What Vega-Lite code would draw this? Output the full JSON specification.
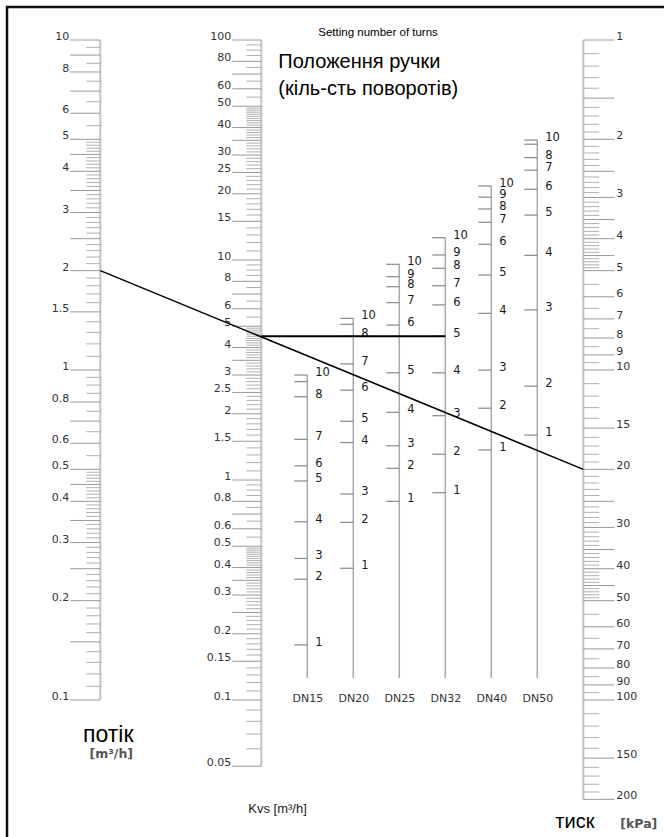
{
  "$schema": "https://vega.github.io/schema/vega-lite/v6.json",
  "width": 677,
  "height": 850,
  "autosize": {"type": "none"},
  "padding": {"left": 7, "top": 7, "right": -20, "bottom": -20},
  "background": "#ffffff",
  "config": {"view": {"stroke": "#111111", "strokeWidth": 2.5}, "text": {"font": "DejaVu Sans"}},
  "datasets": {
    "ticks": [
      {"axis":"flow","value":10,"kind":"major"},{"axis":"flow","value":8,"kind":"major"},{"axis":"flow","value":6,"kind":"major"},{"axis":"flow","value":5,"kind":"major"},{"axis":"flow","value":4,"kind":"major"},{"axis":"flow","value":3,"kind":"major"},{"axis":"flow","value":2,"kind":"major"},{"axis":"flow","value":1.5,"kind":"major"},{"axis":"flow","value":1,"kind":"major"},{"axis":"flow","value":0.8,"kind":"major"},{"axis":"flow","value":0.6,"kind":"major"},{"axis":"flow","value":0.5,"kind":"major"},{"axis":"flow","value":0.4,"kind":"major"},{"axis":"flow","value":0.3,"kind":"major"},{"axis":"flow","value":0.2,"kind":"major"},{"axis":"flow","value":0.1,"kind":"major"},
      {"axis":"flow","value":9,"kind":"long"},{"axis":"flow","value":7,"kind":"long"},{"axis":"flow","value":4.5,"kind":"long"},{"axis":"flow","value":3.5,"kind":"long"},{"axis":"flow","value":2.5,"kind":"long"},{"axis":"flow","value":0.7,"kind":"long"},{"axis":"flow","value":0.45,"kind":"long"},{"axis":"flow","value":0.35,"kind":"long"},{"axis":"flow","value":0.25,"kind":"long"},{"axis":"flow","value":0.15,"kind":"long"},
      {"axis":"flow","value":9.5,"kind":"minor"},{"axis":"flow","value":8.5,"kind":"minor"},{"axis":"flow","value":7.5,"kind":"minor"},{"axis":"flow","value":6.5,"kind":"minor"},{"axis":"flow","value":5.5,"kind":"minor"},
      {"axis":"flow","value":4.9,"kind":"minor"},{"axis":"flow","value":4.8,"kind":"minor"},{"axis":"flow","value":4.7,"kind":"minor"},{"axis":"flow","value":4.6,"kind":"minor"},{"axis":"flow","value":4.4,"kind":"minor"},{"axis":"flow","value":4.3,"kind":"minor"},{"axis":"flow","value":4.2,"kind":"minor"},{"axis":"flow","value":4.1,"kind":"minor"},
      {"axis":"flow","value":3.9,"kind":"minor"},{"axis":"flow","value":3.8,"kind":"minor"},{"axis":"flow","value":3.7,"kind":"minor"},{"axis":"flow","value":3.6,"kind":"minor"},{"axis":"flow","value":3.4,"kind":"minor"},{"axis":"flow","value":3.3,"kind":"minor"},{"axis":"flow","value":3.2,"kind":"minor"},{"axis":"flow","value":3.1,"kind":"minor"},
      {"axis":"flow","value":2.9,"kind":"minor"},{"axis":"flow","value":2.8,"kind":"minor"},{"axis":"flow","value":2.7,"kind":"minor"},{"axis":"flow","value":2.6,"kind":"minor"},{"axis":"flow","value":2.4,"kind":"minor"},{"axis":"flow","value":2.3,"kind":"minor"},{"axis":"flow","value":2.2,"kind":"minor"},{"axis":"flow","value":2.1,"kind":"minor"},
      {"axis":"flow","value":1.9,"kind":"minor"},{"axis":"flow","value":1.8,"kind":"minor"},{"axis":"flow","value":1.7,"kind":"minor"},{"axis":"flow","value":1.6,"kind":"minor"},{"axis":"flow","value":1.4,"kind":"minor"},{"axis":"flow","value":1.3,"kind":"minor"},{"axis":"flow","value":1.2,"kind":"minor"},{"axis":"flow","value":1.1,"kind":"minor"},
      {"axis":"flow","value":0.95,"kind":"minor"},{"axis":"flow","value":0.9,"kind":"minor"},{"axis":"flow","value":0.85,"kind":"minor"},{"axis":"flow","value":0.75,"kind":"minor"},{"axis":"flow","value":0.65,"kind":"minor"},{"axis":"flow","value":0.55,"kind":"minor"},
      {"axis":"flow","value":0.49,"kind":"minor"},{"axis":"flow","value":0.48,"kind":"minor"},{"axis":"flow","value":0.47,"kind":"minor"},{"axis":"flow","value":0.46,"kind":"minor"},{"axis":"flow","value":0.44,"kind":"minor"},{"axis":"flow","value":0.43,"kind":"minor"},{"axis":"flow","value":0.42,"kind":"minor"},{"axis":"flow","value":0.41,"kind":"minor"},
      {"axis":"flow","value":0.39,"kind":"minor"},{"axis":"flow","value":0.38,"kind":"minor"},{"axis":"flow","value":0.37,"kind":"minor"},{"axis":"flow","value":0.36,"kind":"minor"},{"axis":"flow","value":0.34,"kind":"minor"},{"axis":"flow","value":0.33,"kind":"minor"},{"axis":"flow","value":0.32,"kind":"minor"},{"axis":"flow","value":0.31,"kind":"minor"},
      {"axis":"flow","value":0.29,"kind":"minor"},{"axis":"flow","value":0.28,"kind":"minor"},{"axis":"flow","value":0.27,"kind":"minor"},{"axis":"flow","value":0.26,"kind":"minor"},{"axis":"flow","value":0.24,"kind":"minor"},{"axis":"flow","value":0.23,"kind":"minor"},{"axis":"flow","value":0.22,"kind":"minor"},{"axis":"flow","value":0.21,"kind":"minor"},
      {"axis":"flow","value":0.19,"kind":"minor"},{"axis":"flow","value":0.18,"kind":"minor"},{"axis":"flow","value":0.17,"kind":"minor"},{"axis":"flow","value":0.16,"kind":"minor"},{"axis":"flow","value":0.14,"kind":"minor"},{"axis":"flow","value":0.13,"kind":"minor"},{"axis":"flow","value":0.12,"kind":"minor"},{"axis":"flow","value":0.11,"kind":"minor"},

      {"axis":"Kvs","value":100,"kind":"major"},{"axis":"Kvs","value":80,"kind":"major"},{"axis":"Kvs","value":60,"kind":"major"},{"axis":"Kvs","value":50,"kind":"major"},{"axis":"Kvs","value":40,"kind":"major"},{"axis":"Kvs","value":30,"kind":"major"},{"axis":"Kvs","value":25,"kind":"major"},{"axis":"Kvs","value":20,"kind":"major"},{"axis":"Kvs","value":15,"kind":"major"},{"axis":"Kvs","value":10,"kind":"major"},{"axis":"Kvs","value":8,"kind":"major"},{"axis":"Kvs","value":6,"kind":"major"},{"axis":"Kvs","value":5,"kind":"major"},{"axis":"Kvs","value":4,"kind":"major"},{"axis":"Kvs","value":3,"kind":"major"},{"axis":"Kvs","value":2.5,"kind":"major"},{"axis":"Kvs","value":2,"kind":"major"},{"axis":"Kvs","value":1.5,"kind":"major"},{"axis":"Kvs","value":1,"kind":"major"},{"axis":"Kvs","value":0.8,"kind":"major"},{"axis":"Kvs","value":0.6,"kind":"major"},{"axis":"Kvs","value":0.5,"kind":"major"},{"axis":"Kvs","value":0.4,"kind":"major"},{"axis":"Kvs","value":0.3,"kind":"major"},{"axis":"Kvs","value":0.2,"kind":"major"},{"axis":"Kvs","value":0.15,"kind":"major"},{"axis":"Kvs","value":0.1,"kind":"major"},{"axis":"Kvs","value":0.05,"kind":"major"},
      {"axis":"Kvs","value":70,"kind":"long"},{"axis":"Kvs","value":35,"kind":"long"},{"axis":"Kvs","value":7,"kind":"long"},{"axis":"Kvs","value":3.5,"kind":"long"},{"axis":"Kvs","value":0.7,"kind":"long"},{"axis":"Kvs","value":0.35,"kind":"long"},{"axis":"Kvs","value":0.25,"kind":"long"},
      {"axis":"Kvs","value":95,"kind":"minor"},{"axis":"Kvs","value":90,"kind":"minor"},{"axis":"Kvs","value":85,"kind":"minor"},{"axis":"Kvs","value":75,"kind":"minor"},{"axis":"Kvs","value":65,"kind":"minor"},{"axis":"Kvs","value":55,"kind":"minor"},
      {"axis":"Kvs","value":49,"kind":"minor"},{"axis":"Kvs","value":48,"kind":"minor"},{"axis":"Kvs","value":47,"kind":"minor"},{"axis":"Kvs","value":46,"kind":"minor"},{"axis":"Kvs","value":45,"kind":"minor"},{"axis":"Kvs","value":44,"kind":"minor"},{"axis":"Kvs","value":43,"kind":"minor"},{"axis":"Kvs","value":42,"kind":"minor"},{"axis":"Kvs","value":41,"kind":"minor"},
      {"axis":"Kvs","value":39,"kind":"minor"},{"axis":"Kvs","value":38,"kind":"minor"},{"axis":"Kvs","value":37,"kind":"minor"},{"axis":"Kvs","value":36,"kind":"minor"},{"axis":"Kvs","value":34,"kind":"minor"},{"axis":"Kvs","value":33,"kind":"minor"},{"axis":"Kvs","value":32,"kind":"minor"},{"axis":"Kvs","value":31,"kind":"minor"},
      {"axis":"Kvs","value":29,"kind":"minor"},{"axis":"Kvs","value":28,"kind":"minor"},{"axis":"Kvs","value":27,"kind":"minor"},{"axis":"Kvs","value":26,"kind":"minor"},{"axis":"Kvs","value":24,"kind":"minor"},{"axis":"Kvs","value":23,"kind":"minor"},{"axis":"Kvs","value":22,"kind":"minor"},{"axis":"Kvs","value":21,"kind":"minor"},
      {"axis":"Kvs","value":19,"kind":"minor"},{"axis":"Kvs","value":18,"kind":"minor"},{"axis":"Kvs","value":17,"kind":"minor"},{"axis":"Kvs","value":16,"kind":"minor"},{"axis":"Kvs","value":14,"kind":"minor"},{"axis":"Kvs","value":13,"kind":"minor"},{"axis":"Kvs","value":12,"kind":"minor"},{"axis":"Kvs","value":11,"kind":"minor"},
      {"axis":"Kvs","value":9.5,"kind":"minor"},{"axis":"Kvs","value":9,"kind":"minor"},{"axis":"Kvs","value":8.5,"kind":"minor"},{"axis":"Kvs","value":7.5,"kind":"minor"},{"axis":"Kvs","value":6.5,"kind":"minor"},{"axis":"Kvs","value":5.5,"kind":"minor"},
      {"axis":"Kvs","value":4.9,"kind":"minor"},{"axis":"Kvs","value":4.8,"kind":"minor"},{"axis":"Kvs","value":4.7,"kind":"minor"},{"axis":"Kvs","value":4.6,"kind":"minor"},{"axis":"Kvs","value":4.5,"kind":"minor"},{"axis":"Kvs","value":4.4,"kind":"minor"},{"axis":"Kvs","value":4.3,"kind":"minor"},{"axis":"Kvs","value":4.2,"kind":"minor"},{"axis":"Kvs","value":4.1,"kind":"minor"},
      {"axis":"Kvs","value":3.9,"kind":"minor"},{"axis":"Kvs","value":3.8,"kind":"minor"},{"axis":"Kvs","value":3.7,"kind":"minor"},{"axis":"Kvs","value":3.6,"kind":"minor"},{"axis":"Kvs","value":3.4,"kind":"minor"},{"axis":"Kvs","value":3.3,"kind":"minor"},{"axis":"Kvs","value":3.2,"kind":"minor"},{"axis":"Kvs","value":3.1,"kind":"minor"},
      {"axis":"Kvs","value":2.9,"kind":"minor"},{"axis":"Kvs","value":2.8,"kind":"minor"},{"axis":"Kvs","value":2.7,"kind":"minor"},{"axis":"Kvs","value":2.6,"kind":"minor"},{"axis":"Kvs","value":2.4,"kind":"minor"},{"axis":"Kvs","value":2.3,"kind":"minor"},{"axis":"Kvs","value":2.2,"kind":"minor"},{"axis":"Kvs","value":2.1,"kind":"minor"},
      {"axis":"Kvs","value":1.9,"kind":"minor"},{"axis":"Kvs","value":1.8,"kind":"minor"},{"axis":"Kvs","value":1.7,"kind":"minor"},{"axis":"Kvs","value":1.6,"kind":"minor"},{"axis":"Kvs","value":1.4,"kind":"minor"},{"axis":"Kvs","value":1.3,"kind":"minor"},{"axis":"Kvs","value":1.2,"kind":"minor"},{"axis":"Kvs","value":1.1,"kind":"minor"},
      {"axis":"Kvs","value":0.95,"kind":"minor"},{"axis":"Kvs","value":0.9,"kind":"minor"},{"axis":"Kvs","value":0.85,"kind":"minor"},{"axis":"Kvs","value":0.75,"kind":"minor"},{"axis":"Kvs","value":0.65,"kind":"minor"},{"axis":"Kvs","value":0.55,"kind":"minor"},
      {"axis":"Kvs","value":0.49,"kind":"minor"},{"axis":"Kvs","value":0.48,"kind":"minor"},{"axis":"Kvs","value":0.47,"kind":"minor"},{"axis":"Kvs","value":0.46,"kind":"minor"},{"axis":"Kvs","value":0.45,"kind":"minor"},{"axis":"Kvs","value":0.44,"kind":"minor"},{"axis":"Kvs","value":0.43,"kind":"minor"},{"axis":"Kvs","value":0.42,"kind":"minor"},{"axis":"Kvs","value":0.41,"kind":"minor"},
      {"axis":"Kvs","value":0.39,"kind":"minor"},{"axis":"Kvs","value":0.38,"kind":"minor"},{"axis":"Kvs","value":0.37,"kind":"minor"},{"axis":"Kvs","value":0.36,"kind":"minor"},{"axis":"Kvs","value":0.34,"kind":"minor"},{"axis":"Kvs","value":0.33,"kind":"minor"},{"axis":"Kvs","value":0.32,"kind":"minor"},{"axis":"Kvs","value":0.31,"kind":"minor"},
      {"axis":"Kvs","value":0.29,"kind":"minor"},{"axis":"Kvs","value":0.28,"kind":"minor"},{"axis":"Kvs","value":0.27,"kind":"minor"},{"axis":"Kvs","value":0.26,"kind":"minor"},{"axis":"Kvs","value":0.24,"kind":"minor"},{"axis":"Kvs","value":0.23,"kind":"minor"},{"axis":"Kvs","value":0.22,"kind":"minor"},{"axis":"Kvs","value":0.21,"kind":"minor"},
      {"axis":"Kvs","value":0.19,"kind":"minor"},{"axis":"Kvs","value":0.18,"kind":"minor"},{"axis":"Kvs","value":0.17,"kind":"minor"},{"axis":"Kvs","value":0.16,"kind":"minor"},{"axis":"Kvs","value":0.14,"kind":"minor"},{"axis":"Kvs","value":0.13,"kind":"minor"},{"axis":"Kvs","value":0.12,"kind":"minor"},{"axis":"Kvs","value":0.11,"kind":"minor"},
      {"axis":"Kvs","value":0.09,"kind":"minor"},{"axis":"Kvs","value":0.08,"kind":"minor"},{"axis":"Kvs","value":0.07,"kind":"minor"},{"axis":"Kvs","value":0.06,"kind":"minor"},

      {"axis":"pressure","value":1,"kind":"major"},{"axis":"pressure","value":2,"kind":"major"},{"axis":"pressure","value":3,"kind":"major"},{"axis":"pressure","value":4,"kind":"major"},{"axis":"pressure","value":5,"kind":"major"},{"axis":"pressure","value":6,"kind":"major"},{"axis":"pressure","value":7,"kind":"major"},{"axis":"pressure","value":8,"kind":"major"},{"axis":"pressure","value":9,"kind":"major"},{"axis":"pressure","value":10,"kind":"major"},{"axis":"pressure","value":15,"kind":"major"},{"axis":"pressure","value":20,"kind":"major"},{"axis":"pressure","value":30,"kind":"major"},{"axis":"pressure","value":40,"kind":"major"},{"axis":"pressure","value":50,"kind":"major"},{"axis":"pressure","value":60,"kind":"major"},{"axis":"pressure","value":70,"kind":"major"},{"axis":"pressure","value":80,"kind":"major"},{"axis":"pressure","value":90,"kind":"major"},{"axis":"pressure","value":100,"kind":"major"},{"axis":"pressure","value":150,"kind":"major"},{"axis":"pressure","value":200,"kind":"major"},
      {"axis":"pressure","value":1.5,"kind":"long"},{"axis":"pressure","value":2.5,"kind":"long"},{"axis":"pressure","value":3.5,"kind":"long"},{"axis":"pressure","value":4.5,"kind":"long"},{"axis":"pressure","value":25,"kind":"long"},{"axis":"pressure","value":35,"kind":"long"},{"axis":"pressure","value":45,"kind":"long"},
      {"axis":"pressure","value":1.1,"kind":"minor"},{"axis":"pressure","value":1.2,"kind":"minor"},{"axis":"pressure","value":1.3,"kind":"minor"},{"axis":"pressure","value":1.4,"kind":"minor"},{"axis":"pressure","value":1.6,"kind":"minor"},{"axis":"pressure","value":1.7,"kind":"minor"},{"axis":"pressure","value":1.8,"kind":"minor"},{"axis":"pressure","value":1.9,"kind":"minor"},
      {"axis":"pressure","value":2.1,"kind":"minor"},{"axis":"pressure","value":2.2,"kind":"minor"},{"axis":"pressure","value":2.3,"kind":"minor"},{"axis":"pressure","value":2.4,"kind":"minor"},{"axis":"pressure","value":2.6,"kind":"minor"},{"axis":"pressure","value":2.7,"kind":"minor"},{"axis":"pressure","value":2.8,"kind":"minor"},{"axis":"pressure","value":2.9,"kind":"minor"},
      {"axis":"pressure","value":3.1,"kind":"minor"},{"axis":"pressure","value":3.2,"kind":"minor"},{"axis":"pressure","value":3.3,"kind":"minor"},{"axis":"pressure","value":3.4,"kind":"minor"},{"axis":"pressure","value":3.6,"kind":"minor"},{"axis":"pressure","value":3.7,"kind":"minor"},{"axis":"pressure","value":3.8,"kind":"minor"},{"axis":"pressure","value":3.9,"kind":"minor"},
      {"axis":"pressure","value":4.1,"kind":"minor"},{"axis":"pressure","value":4.2,"kind":"minor"},{"axis":"pressure","value":4.3,"kind":"minor"},{"axis":"pressure","value":4.4,"kind":"minor"},{"axis":"pressure","value":4.6,"kind":"minor"},{"axis":"pressure","value":4.7,"kind":"minor"},{"axis":"pressure","value":4.8,"kind":"minor"},{"axis":"pressure","value":4.9,"kind":"minor"},
      {"axis":"pressure","value":5.5,"kind":"minor"},{"axis":"pressure","value":6.5,"kind":"minor"},{"axis":"pressure","value":7.5,"kind":"minor"},{"axis":"pressure","value":8.5,"kind":"minor"},{"axis":"pressure","value":9.5,"kind":"minor"},
      {"axis":"pressure","value":11,"kind":"minor"},{"axis":"pressure","value":12,"kind":"minor"},{"axis":"pressure","value":13,"kind":"minor"},{"axis":"pressure","value":14,"kind":"minor"},{"axis":"pressure","value":16,"kind":"minor"},{"axis":"pressure","value":17,"kind":"minor"},{"axis":"pressure","value":18,"kind":"minor"},{"axis":"pressure","value":19,"kind":"minor"},
      {"axis":"pressure","value":21,"kind":"minor"},{"axis":"pressure","value":22,"kind":"minor"},{"axis":"pressure","value":23,"kind":"minor"},{"axis":"pressure","value":24,"kind":"minor"},{"axis":"pressure","value":26,"kind":"minor"},{"axis":"pressure","value":27,"kind":"minor"},{"axis":"pressure","value":28,"kind":"minor"},{"axis":"pressure","value":29,"kind":"minor"},
      {"axis":"pressure","value":31,"kind":"minor"},{"axis":"pressure","value":32,"kind":"minor"},{"axis":"pressure","value":33,"kind":"minor"},{"axis":"pressure","value":34,"kind":"minor"},{"axis":"pressure","value":36,"kind":"minor"},{"axis":"pressure","value":37,"kind":"minor"},{"axis":"pressure","value":38,"kind":"minor"},{"axis":"pressure","value":39,"kind":"minor"},
      {"axis":"pressure","value":41,"kind":"minor"},{"axis":"pressure","value":42,"kind":"minor"},{"axis":"pressure","value":43,"kind":"minor"},{"axis":"pressure","value":44,"kind":"minor"},{"axis":"pressure","value":46,"kind":"minor"},{"axis":"pressure","value":47,"kind":"minor"},{"axis":"pressure","value":48,"kind":"minor"},{"axis":"pressure","value":49,"kind":"minor"},
      {"axis":"pressure","value":55,"kind":"minor"},{"axis":"pressure","value":65,"kind":"minor"},{"axis":"pressure","value":75,"kind":"minor"},{"axis":"pressure","value":85,"kind":"minor"},{"axis":"pressure","value":95,"kind":"minor"},
      {"axis":"pressure","value":110,"kind":"minor"},{"axis":"pressure","value":120,"kind":"minor"},{"axis":"pressure","value":130,"kind":"minor"},{"axis":"pressure","value":140,"kind":"minor"},{"axis":"pressure","value":160,"kind":"minor"},{"axis":"pressure","value":170,"kind":"minor"},{"axis":"pressure","value":180,"kind":"minor"},{"axis":"pressure","value":190,"kind":"minor"}
    ],
    "turns": [
      {"axis":"DN15","turn":10,"value":3.0,"labeled":true},{"axis":"DN15","turn":9,"value":2.8,"labeled":false},{"axis":"DN15","turn":8,"value":2.39,"labeled":true},{"axis":"DN15","turn":7,"value":1.53,"labeled":true},{"axis":"DN15","turn":6,"value":1.16,"labeled":true},{"axis":"DN15","turn":5,"value":0.99,"labeled":true},{"axis":"DN15","turn":4,"value":0.646,"labeled":true},{"axis":"DN15","turn":3,"value":0.44,"labeled":true},{"axis":"DN15","turn":2,"value":0.354,"labeled":true},{"axis":"DN15","turn":1,"value":0.178,"labeled":true},
      {"axis":"DN20","turn":10,"value":5.43,"labeled":true},{"axis":"DN20","turn":9,"value":5.1,"labeled":false},{"axis":"DN20","turn":8,"value":4.5,"labeled":true},{"axis":"DN20","turn":7,"value":3.37,"labeled":true},{"axis":"DN20","turn":6,"value":2.56,"labeled":true},{"axis":"DN20","turn":5,"value":1.85,"labeled":true},{"axis":"DN20","turn":4,"value":1.48,"labeled":true},{"axis":"DN20","turn":3,"value":0.864,"labeled":true},{"axis":"DN20","turn":2,"value":0.642,"labeled":true},{"axis":"DN20","turn":1,"value":0.397,"labeled":true},
      {"axis":"DN25","turn":10,"value":9.56,"labeled":true},{"axis":"DN25","turn":9,"value":8.4,"labeled":true},{"axis":"DN25","turn":8,"value":7.56,"labeled":true},{"axis":"DN25","turn":7,"value":6.4,"labeled":true},{"axis":"DN25","turn":6,"value":5.06,"labeled":true},{"axis":"DN25","turn":5,"value":3.07,"labeled":true},{"axis":"DN25","turn":4,"value":2.03,"labeled":true},{"axis":"DN25","turn":3,"value":1.43,"labeled":true},{"axis":"DN25","turn":2,"value":1.13,"labeled":true},{"axis":"DN25","turn":1,"value":0.8,"labeled":true},
      {"axis":"DN32","turn":10,"value":12.63,"labeled":true},{"axis":"DN32","turn":9,"value":10.54,"labeled":true},{"axis":"DN32","turn":8,"value":9.17,"labeled":true},{"axis":"DN32","turn":7,"value":7.64,"labeled":true},{"axis":"DN32","turn":6,"value":6.25,"labeled":true},{"axis":"DN32","turn":5,"value":4.5,"labeled":true},{"axis":"DN32","turn":4,"value":3.07,"labeled":true},{"axis":"DN32","turn":3,"value":1.96,"labeled":true},{"axis":"DN32","turn":2,"value":1.31,"labeled":true},{"axis":"DN32","turn":1,"value":0.875,"labeled":true},
      {"axis":"DN40","turn":10,"value":21.7,"labeled":true},{"axis":"DN40","turn":9,"value":19.3,"labeled":true},{"axis":"DN40","turn":8,"value":17.06,"labeled":true},{"axis":"DN40","turn":7,"value":14.84,"labeled":true},{"axis":"DN40","turn":6,"value":11.79,"labeled":true},{"axis":"DN40","turn":5,"value":8.55,"labeled":true},{"axis":"DN40","turn":4,"value":5.72,"labeled":true},{"axis":"DN40","turn":3,"value":3.16,"labeled":true},{"axis":"DN40","turn":2,"value":2.12,"labeled":true},{"axis":"DN40","turn":1,"value":1.37,"labeled":true},
      {"axis":"DN50","turn":10,"value":35.1,"labeled":true},{"axis":"DN50","turn":9,"value":33.6,"labeled":false},{"axis":"DN50","turn":8,"value":29.2,"labeled":true},{"axis":"DN50","turn":7,"value":25.6,"labeled":true},{"axis":"DN50","turn":6,"value":20.96,"labeled":true},{"axis":"DN50","turn":5,"value":16.0,"labeled":true},{"axis":"DN50","turn":4,"value":10.5,"labeled":true},{"axis":"DN50","turn":3,"value":5.93,"labeled":true},{"axis":"DN50","turn":2,"value":2.67,"labeled":true},{"axis":"DN50","turn":1,"value":1.6,"labeled":true}
    ]
  },
  "encoding": {
    "x": {
      "field": "axis",
      "type": "nominal",
      "scale": {
        "type": "point",
        "domain": ["flow","g1","g2","g3","g4","g5","g6","Kvs","g7","DN15","g8","DN20","g9","DN25","g10","DN32","g11","DN40","g12","DN50","g13","pressure"],
        "range": [93.3, 576.3],
        "padding": 0
      },
      "axis": {
        "values": ["DN15","DN20","DN25","DN32","DN40","DN50"],
        "title": null,
        "domain": false,
        "ticks": false,
        "grid": false,
        "labelFont": "DejaVu Sans",
        "labelFontSize": 11,
        "labelColor": "#333333",
        "labelPadding": 0,
        "labelAngle": 0,
        "labelOverlap": false,
        "offset": -164.5
      }
    }
  },
  "resolve": {"scale": {"y": "independent"}},
  "layer": [
    {
      "data": {"name": "ticks"},
      "transform": [{"filter": "datum.axis == 'Kvs'"}],
      "encoding": {"y": {"field": "value", "type": "quantitative", "scale": {"type": "log", "domain": [0.019335, 141.254], "nice": false}, "axis": null}},
      "layer": [
        {"data": {"values": [{"axis": "Kvs", "value": 100, "value2": 0.05}]}, "mark": {"type": "rule", "color": "#c4c4c4", "strokeWidth": 2}, "encoding": {"y2": {"field": "value2"}}},
        {"transform": [{"filter": "datum.kind == 'minor'"}], "mark": {"type": "tick", "orient": "horizontal", "size": 15, "thickness": 1, "xOffset": -7.5, "color": "#b0b0b0", "opacity": 1}},
        {"transform": [{"filter": "datum.kind != 'minor'"}], "mark": {"type": "tick", "orient": "horizontal", "size": 29, "thickness": 1, "xOffset": -14.5, "color": "#999999", "opacity": 1}},
        {"transform": [{"filter": "datum.kind == 'major'"}], "mark": {"type": "text", "align": "right", "baseline": "alphabetic", "dx": -30, "fontSize": 11, "color": "#333333"}, "encoding": {"text": {"field": "value", "type": "quantitative", "format": "~g"}}},
        {"data": {"name": "turns"}, "transform": [{"filter": "datum.turn == 10"}], "mark": {"type": "rule", "color": "#a8a8a8", "strokeWidth": 1.5}, "encoding": {"y2": {"datum": 0.126}}},
        {"data": {"name": "turns"}, "mark": {"type": "tick", "orient": "horizontal", "size": 13, "thickness": 1.2, "xOffset": -6.5, "color": "#888888", "opacity": 1}},
        {"data": {"name": "turns"}, "transform": [{"filter": "datum.labeled"}], "mark": {"type": "text", "align": "left", "baseline": "alphabetic", "dx": 8, "dy": 1, "fontSize": 11.5, "color": "#1a1a1a"}, "encoding": {"text": {"field": "turn", "type": "quantitative"}}},
        {"data": {"values": [{"axis": "Kvs", "value": 4.5, "to": "DN32"}]}, "mark": {"type": "rule", "color": "#000000", "strokeWidth": 2}, "encoding": {"x2": {"field": "to"}}},
        {"data": {"values": [{"axis": "DN15", "value": 104.3, "text": "Setting number of turns"}]}, "mark": {"type": "text", "align": "left", "baseline": "alphabetic", "dx": 11, "font": "Liberation Sans", "fontSize": 11.5, "color": "#000000"}, "encoding": {"text": {"field": "text"}}},
        {"data": {"values": [{"axis": "Kvs", "value": 74.35, "text": "Положення ручки"}, {"axis": "Kvs", "value": 56.2, "text": "(кіль-сть поворотів)"}]}, "mark": {"type": "text", "align": "left", "baseline": "alphabetic", "dx": 17, "font": "Liberation Sans", "fontSize": 20, "color": "#000000"}, "encoding": {"text": {"field": "text"}}},
        {"data": {"values": [{"axis": "Kvs", "value": 0.0306, "text": "Kvs [m³/h]"}]}, "mark": {"type": "text", "align": "left", "baseline": "alphabetic", "dx": -13, "font": "Liberation Sans", "fontSize": 13, "color": "#222222"}, "encoding": {"text": {"field": "text"}}}
      ]
    },
    {
      "data": {"name": "ticks"},
      "transform": [{"filter": "datum.axis == 'pressure'"}],
      "encoding": {"y": {"field": "value", "type": "quantitative", "scale": {"type": "log", "domain": [0.794328, 299.06], "nice": false, "reverse": true}, "axis": null}},
      "layer": [
        {"data": {"values": [{"axis": "pressure", "value": 1, "value2": 200}]}, "mark": {"type": "rule", "color": "#c4c4c4", "strokeWidth": 2}, "encoding": {"y2": {"field": "value2"}}},
        {"transform": [{"filter": "datum.kind == 'minor'"}], "mark": {"type": "tick", "orient": "horizontal", "size": 16, "thickness": 1, "xOffset": 8, "color": "#b0b0b0", "opacity": 1}},
        {"transform": [{"filter": "datum.kind != 'minor'"}], "mark": {"type": "tick", "orient": "horizontal", "size": 31, "thickness": 1, "xOffset": 15.5, "color": "#999999", "opacity": 1}},
        {"transform": [{"filter": "datum.kind == 'major'"}], "mark": {"type": "text", "align": "left", "baseline": "alphabetic", "dx": 33, "fontSize": 11, "color": "#333333"}, "encoding": {"text": {"field": "value", "type": "quantitative", "format": "~g"}}},
        {"data": {"values": [{"axis": "pressure", "value": 244.3, "text": "тиск"}]}, "mark": {"type": "text", "align": "left", "baseline": "alphabetic", "dx": -28, "font": "Liberation Sans", "fontSize": 20, "color": "#000000"}, "encoding": {"text": {"field": "text"}}},
        {"data": {"values": [{"axis": "pressure", "value": 244.3, "text": "[kPa]"}]}, "mark": {"type": "text", "align": "left", "baseline": "alphabetic", "dx": 37, "fontSize": 12.5, "fontWeight": "bold", "color": "#555555"}, "encoding": {"text": {"field": "text"}}}
      ]
    },
    {
      "data": {"name": "ticks"},
      "transform": [{"filter": "datum.axis == 'flow'"}],
      "encoding": {"y": {"field": "value", "type": "quantitative", "scale": {"type": "log", "domain": [0.033437, 12.589], "nice": false}, "axis": null}},
      "layer": [
        {"data": {"values": [{"axis": "flow", "value": 10, "value2": 0.1}]}, "mark": {"type": "rule", "color": "#c4c4c4", "strokeWidth": 2}, "encoding": {"y2": {"field": "value2"}}},
        {"transform": [{"filter": "datum.kind == 'minor'"}], "mark": {"type": "tick", "orient": "horizontal", "size": 14, "thickness": 1, "xOffset": -7, "color": "#b0b0b0", "opacity": 1}},
        {"transform": [{"filter": "datum.kind != 'minor'"}], "mark": {"type": "tick", "orient": "horizontal", "size": 30, "thickness": 1, "xOffset": -15, "color": "#999999", "opacity": 1}},
        {"transform": [{"filter": "datum.kind == 'major'"}], "mark": {"type": "text", "align": "right", "baseline": "alphabetic", "dx": -31, "fontSize": 11, "color": "#333333"}, "encoding": {"text": {"field": "value", "type": "quantitative", "format": "~g"}}},
        {"data": {"values": [{"axis": "flow", "value": 0.0747, "text": "потік"}]}, "mark": {"type": "text", "align": "center", "baseline": "alphabetic", "dx": 8, "font": "Liberation Sans", "fontSize": 23, "color": "#000000"}, "encoding": {"text": {"field": "text"}}},
        {"data": {"values": [{"axis": "flow", "value": 0.0668, "text": "[m³/h]"}]}, "mark": {"type": "text", "align": "center", "baseline": "alphabetic", "dx": 11, "fontSize": 12.5, "fontWeight": "bold", "color": "#555555"}, "encoding": {"text": {"field": "text"}}},
        {"data": {"values": [{"axis": "flow", "value": 2, "to": "pressure", "value2": 0.5}]}, "mark": {"type": "rule", "color": "#000000", "strokeWidth": 1.5}, "encoding": {"x2": {"field": "to"}, "y2": {"field": "value2"}}}
      ]
    }
  ]
}
